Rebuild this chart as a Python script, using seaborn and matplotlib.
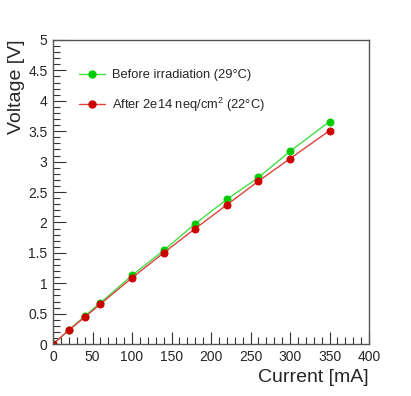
import matplotlib
matplotlib.use('Agg')
import matplotlib.pyplot as plt
import seaborn as sns
import pandas as pd
from matplotlib.lines import Line2D
from matplotlib.ticker import MultipleLocator

# measured data
current = [0, 20, 40, 60, 100, 140, 180, 220, 260, 300, 350]
v_before = [0.0, 0.23, 0.46, 0.68, 1.13, 1.54, 1.98, 2.38, 2.74, 3.17, 3.66]
v_after = [0.0, 0.23, 0.44, 0.66, 1.09, 1.50, 1.90, 2.29, 2.68, 3.05, 3.51]

label_before = 'Before irradiation (29\u00b0C)'
label_after = 'After 2e14 neq/cm$^2$ (22\u00b0C)'

sns.set_style('ticks')
plt.rcParams['font.family'] = ['Liberation Sans', 'DejaVu Sans']
plt.rcParams['mathtext.fontset'] = 'custom'
plt.rcParams['mathtext.rm'] = 'Liberation Sans'

df = pd.DataFrame({'Current': current, 'Before': v_before, 'After': v_after})

fig = plt.figure(figsize=(4.11, 3.96), dpi=100)
ax = fig.add_axes([0.129, 0.131, 0.769, 0.768])

green_line, green_mk = '#44dd44', '#00cc00'
red_line, red_mk = '#e04040', '#cc0000'

sns.lineplot(data=df, x='Current', y='Before', ax=ax, color=green_line, lw=1,
             marker='o', markersize=5, markerfacecolor=green_mk,
             markeredgecolor=green_mk)
sns.lineplot(data=df, x='Current', y='After', ax=ax, color=red_line, lw=1,
             marker='o', markersize=5, markerfacecolor=red_mk,
             markeredgecolor=red_mk)

ax.set_xlim(0, 400)
ax.set_ylim(0, 5)
ax.xaxis.set_major_locator(MultipleLocator(50))
ax.xaxis.set_minor_locator(MultipleLocator(10))
ax.yaxis.set_major_locator(MultipleLocator(0.5))
ax.yaxis.set_minor_locator(MultipleLocator(0.1))
ax.set_yticks([0, 0.5, 1, 1.5, 2, 2.5, 3, 3.5, 4, 4.5, 5])
ax.set_yticklabels(['0', '0.5', '1', '1.5', '2', '2.5', '3', '3.5', '4', '4.5', '5'])
ax.tick_params(which='major', direction='in', length=9, width=0.8, labelsize=10, color='#333333')
ax.tick_params(which='minor', direction='in', length=5, width=0.8, color='#333333')
ax.tick_params(axis='y', pad=4)
ax.tick_params(axis='x', pad=4)
for s in ax.spines.values():
    s.set_color('#555555')
    s.set_linewidth(1)

ax.set_xlabel('Current [mA]', fontsize=14, loc='right')
ax.set_ylabel('Voltage [V]', fontsize=14, loc='top', labelpad=2)

handles = [
    Line2D([], [], color=green_line, lw=1, marker='o', markersize=5,
           markerfacecolor=green_mk, markeredgecolor=green_mk),
    Line2D([], [], color=red_line, lw=1, marker='o', markersize=5,
           markerfacecolor=red_mk, markeredgecolor=red_mk),
]
ax.legend(handles, [label_before, label_after], loc='upper left',
          bbox_to_anchor=(0.045, 0.942), frameon=False, fontsize=9.3,
          handlelength=2.0, labelspacing=1.1, handletextpad=0.55)

plt.savefig('out.png', dpi=100)
